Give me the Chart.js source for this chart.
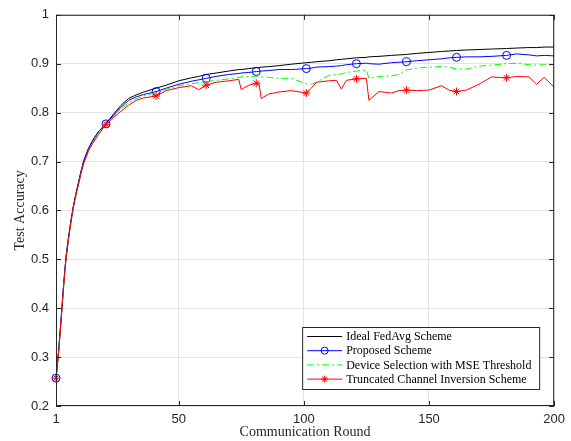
<!DOCTYPE html>
<html>
<head>
<meta charset="utf-8">
<script src="https://cdn.jsdelivr.net/npm/chart.js"></script>
<style>
  body { margin: 0; background: #fff; }
  canvas { display: block; }
</style>
</head>
<body>
<canvas id="acc" width="571" height="441"></canvas>
<script>
const rounds = [1,2,3,4,5,6,7,8,9,10,11,12,14,16,18,21,24,27,30,33,36,41,45,50,55,58,61,65,70,74,75,78,81,82,83,86,90,95,101,103,105,110,113,115,117,121,125,126,130,135,138,141,145,150,155,158,161,165,170,175,181,185,190,193,196,200];

const idealFedAvg = [.257,.31,.375,.445,.505,.545,.58,.61,.635,.657,.68,.70,.727,.746,.761,.778,.797,.815,.829,.836,.842,.850,.856,.865,.871,.874,.878,.881,.885,.888,.888,.890,.892,.892,.893,.894,.896,.899,.902,.903,.904,.906,.908,.909,.910,.912,.913,.914,.915,.917,.918,.919,.921,.923,.925,.926,.927,.928,.929,.930,.931,.932,.933,.933,.934,.934];

const proposed = [.257,.31,.375,.445,.505,.545,.58,.61,.635,.657,.68,.70,.727,.746,.761,.777,.795,.811,.825,.832,.837,.843,.850,.858,.864,.867,.870,.874,.878,.880,.881,.882,.884,.884,.885,.886,.888,.888,.890,.891,.893,.894,.895,.896,.898,.900,.901,.900,.899,.902,.903,.904,.906,.908,.910,.912,.913,.914,.914,.915,.917,.920,.918,.916,.917,.916];

const mseThreshold = [.257,.305,.37,.44,.50,.54,.575,.605,.63,.652,.675,.695,.722,.742,.758,.776,.792,.807,.820,.828,.834,.841,.848,.855,.859,.861,.863,.866,.869,.872,.873,.874,.873,.873,.873,.872,.870,.870,.859,.858,.862,.876,.878,.879,.882,.885,.887,.870,.874,.875,.878,.887,.891,.893,.894,.893,.889,.889,.895,.897,.900,.901,.898,.897,.898,.897];

const truncatedInversion = [.257,.305,.372,.442,.50,.54,.577,.607,.632,.653,.676,.695,.722,.740,.755,.776,.790,.803,.815,.825,.830,.834,.845,.851,.855,.847,.856,.862,.865,.868,.847,.856,.860,.861,.829,.838,.842,.845,.840,.850,.862,.865,.866,.848,.866,.869,.870,.825,.843,.840,.845,.846,.845,.846,.855,.846,.843,.846,.858,.873,.871,.874,.873,.858,.872,.852];

const seriesNames = ['Ideal FedAvg Scheme', 'Proposed Scheme', 'Device Selection with MSE Threshold', 'Truncated Channel Inversion Scheme'];
const xTicks = [1, 50, 100, 150, 200];

const toPoints = vals => vals.map((v, i) => ({x: rounds[i], y: v}));
const markAt = r => rounds.map(x => ((x - 1) % 20 === 0 ? r : 0));

const axisColor = '#262626';

const frame = {
  id: 'frame',
  afterDraw(chart) {
    const ctx = chart.ctx, a = chart.chartArea;
    const xs = chart.scales.x, ys = chart.scales.y;
    ctx.save();
    ctx.strokeStyle = axisColor;
    ctx.lineWidth = 1;
    ctx.strokeRect(a.left + 0.5, a.top + 0.5, a.right - a.left - 1, a.bottom - a.top - 1);
    ctx.beginPath();
    xs.ticks.forEach(t => {
      const px = Math.round(xs.getPixelForValue(t.value)) + 0.5;
      ctx.moveTo(px, a.bottom); ctx.lineTo(px, a.bottom - 5);
      ctx.moveTo(px, a.top); ctx.lineTo(px, a.top + 5);
    });
    ys.ticks.forEach(t => {
      const py = Math.round(ys.getPixelForValue(t.value)) + 0.5;
      ctx.moveTo(a.left, py); ctx.lineTo(a.left + 5, py);
      ctx.moveTo(a.right, py); ctx.lineTo(a.right - 5, py);
    });
    ctx.stroke();

    // legend box, bottom right inside the axes
    const w = 237, h = 62;
    const x0 = a.right - 15 - w, y0 = a.bottom - 17 - h;
    ctx.fillStyle = '#fff';
    ctx.fillRect(x0, y0, w, h);
    ctx.strokeStyle = axisColor;
    ctx.strokeRect(x0 + 0.5, y0 + 0.5, w, h);
    ctx.font = '12px "Liberation Serif", "Times New Roman", serif';
    ctx.textBaseline = 'middle';
    chart.data.datasets.forEach((ds, i) => {
      const y = y0 + 9.5 + i * 14.2;
      ctx.strokeStyle = ds.borderColor;
      ctx.lineWidth = 1;
      ctx.setLineDash(ds.borderDash || []);
      ctx.beginPath();
      ctx.moveTo(x0 + 5, y); ctx.lineTo(x0 + 40, y);
      ctx.stroke();
      ctx.setLineDash([]);
      const mx = x0 + 22.5;
      if (ds.pointStyle === 'circle') {
        ctx.beginPath();
        ctx.arc(mx, y, 3.5, 0, Math.PI * 2);
        ctx.stroke();
      } else if (ds.pointStyle === 'star') {
        const r = 3.5, d = r * 0.707;
        ctx.beginPath();
        ctx.moveTo(mx - r, y); ctx.lineTo(mx + r, y);
        ctx.moveTo(mx, y - r); ctx.lineTo(mx, y + r);
        ctx.moveTo(mx - d, y - d); ctx.lineTo(mx + d, y + d);
        ctx.moveTo(mx - d, y + d); ctx.lineTo(mx + d, y - d);
        ctx.stroke();
      }
      ctx.fillStyle = '#000';
      ctx.fillText(ds.label, x0 + 44, y + 0.5);
    });
    ctx.restore();
  }
};

new Chart(document.getElementById('acc'), {
  type: 'line',
  data: {
    datasets: [
      {
        label: seriesNames[0], data: toPoints(idealFedAvg),
        borderColor: '#000000', borderWidth: 1, pointRadius: 0, order: 4
      },
      {
        label: seriesNames[1], data: toPoints(proposed),
        borderColor: '#0000ff', borderWidth: 1, pointStyle: 'circle',
        pointRadius: markAt(4), pointBorderColor: '#0000ff', pointBackgroundColor: 'rgba(0,0,0,0)',
        pointBorderWidth: 1, order: 3
      },
      {
        label: seriesNames[2], data: toPoints(mseThreshold),
        borderColor: '#00ff00', borderWidth: 1, borderDash: [7, 3, 2, 3], pointRadius: 0, order: 2
      },
      {
        label: seriesNames[3], data: toPoints(truncatedInversion),
        borderColor: '#ff0000', borderWidth: 1, pointStyle: 'star',
        pointRadius: markAt(4), pointBorderColor: '#ff0000', pointBorderWidth: 1, order: 1
      }
    ]
  },
  options: {
    responsive: false,
    animation: false,
    clip: false,
    layout: { padding: { left: 0, right: 16, top: 12, bottom: 0 } },
    plugins: { legend: { display: false }, tooltip: { enabled: false } },
    elements: { line: { tension: 0 } },
    scales: {
      x: {
        type: 'linear', min: 1, max: 200,
        afterBuildTicks: s => { s.ticks = xTicks.map(v => ({value: v})); },
        afterFit: s => { s.height = 35; },
        grid: { color: '#e3e3e3', drawTicks: false },
        border: { display: false },
        ticks: { color: axisColor, padding: 6, maxRotation: 0, font: { family: '"Liberation Sans", Arial, sans-serif', size: 13 } },
        title: { display: true, text: 'Communication Round', color: axisColor, padding: 0,
          font: { family: '"Liberation Serif", "Times New Roman", serif', size: 14 } }
      },
      y: {
        min: 0.2, max: 1,
        ticks: { stepSize: 0.1, color: axisColor, padding: 7,
          callback: v => String(+v.toFixed(1)),
          font: { family: '"Liberation Sans", Arial, sans-serif', size: 13 } },
        afterFit: s => { s.width = 56; },
        grid: { color: '#e3e3e3', drawTicks: false },
        border: { display: false },
        title: { display: true, text: 'Test Accuracy', color: axisColor, padding: { top: 12, bottom: 0 },
          font: { family: '"Liberation Serif", "Times New Roman", serif', size: 14 } }
      }
    }
  },
  plugins: [frame]
});
</script>
</body>
</html>
